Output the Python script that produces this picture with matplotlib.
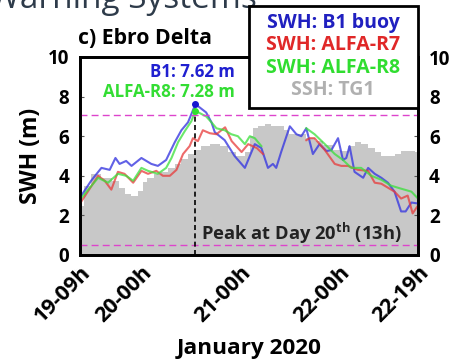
import numpy as np
import matplotlib
matplotlib.use("Agg")
import matplotlib.pyplot as plt
import matplotlib.transforms as mtransforms
from matplotlib.patches import Rectangle

plt.rcParams['font.family'] = ['Open Sans', 'DejaVu Sans']
plt.rcParams['font.weight'] = 'bold'
plt.rcParams['axes.labelweight'] = 'bold'
plt.rcParams['mathtext.fontset'] = 'custom'
plt.rcParams['mathtext.rm'] = 'Open Sans'
plt.rcParams['mathtext.bf'] = 'Open Sans:bold'

# hours since 19 Jan 09h
b1_hours = [0, 2.7, 5.2, 7.2, 8.6, 9.6, 11.2, 12.5, 14.9, 17.3, 18.9, 20.9, 23, 24.6, 26.2, 28,
            30.6, 31.9, 32.7, 35.1, 37.5, 40, 42.4, 44, 45.6, 46.8, 47.6, 48.8, 50.9, 52.5, 53.7,
            54.9, 56.5, 58.1, 59.8, 61, 62.6, 63.8, 64.6, 65.4, 66.6, 68.7, 69.9, 71.5, 73.1, 74.7,
            76.3, 77.9, 79, 80.4, 82]
b1_swh = [2.9, 3.75, 4.4, 4.3, 4.9, 4.6, 4.75, 4.5, 4.9, 4.6, 4.5, 4.8, 5.7, 6.3, 6.7, 7.62,
          7.2, 6.7, 6.2, 5.8, 5.0, 4.4, 5.6, 5.4, 4.4, 4.6, 4.4, 5.2, 6.5, 6.1, 6.0,
          6.4, 5.1, 5.6, 5.25, 5.3, 5.9, 4.8, 4.9, 5.5, 4.2, 3.9, 4.4, 4.1, 3.9, 3.65,
          3.2, 2.2, 2.2, 2.65, 2.6]

r7_hours = [0, 4.4, 6, 7.6, 9.2, 10.8, 12.9, 14.9, 16.5, 18.5, 20.1, 21.8, 23.4, 25, 26.6, 27.4,
            28.6, 29.8, 31.5, 33.1, 35.2, 36.8, 39.2, 40.8, 42.9, 44.4, 49,
            54.9, 55.7, 56.9, 59.4, 61.8, 63.4, 65, 67.4, 69.9, 71.5, 73.1, 74.7, 76.3, 77.9,
            79.5, 80.7, 82]
r7_swh = [2.6, 4.0, 3.75, 3.3, 4.2, 4.1, 3.65, 4.25, 4.1, 4.25, 4.0, 4.0, 4.3, 5.1, 5.5, 5.9,
          5.75, 6.3, 6.15, 6.1, 6.45, 5.75, 5.2, 5.6, 5.4, 5.1, np.nan,
          5.8, 5.9, 5.9, 5.3, 4.6, 4.5, 4.5, 4.3, 4.25, 3.65, 3.6, 3.4, 3.2, 2.85,
          3.0, 2.1, 2.5]

r8_hours = [0, 4.4, 6.8, 9.2, 11.2, 12.9, 14.9, 16.5, 18.9, 20.9, 22.2, 23.8, 25.4, 27, 28,
            30.6, 31.9, 33.1, 35.1, 36.7, 38.3, 40, 41.2, 42.4, 44, 49,
            54.9, 56.9, 59.4, 61.8, 63.8, 65.8, 68.2, 70.7, 73.1, 75.5, 77.9, 80.4, 82]
r8_swh = [2.8, 3.9, 3.65, 4.1, 4.0, 3.75, 4.4, 4.25, 4.1, 4.4, 4.9, 5.7, 6.25, 6.75, 7.28,
          7.0, 6.7, 6.4, 6.3, 6.1, 6.0, 5.6, 6.0, 5.9, 5.5, np.nan,
          6.4, 6.1, 5.6, 5.1, 4.8, 4.4, 4.4, 4.0, 3.8, 3.5, 3.35, 3.2, 2.85]

tg1_hours = [0, 1.7, 3.6, 6.8, 8.8, 10, 11.6, 13.3, 14.9, 15.7, 16.9, 18.9, 20.5, 22.2, 23.8,
             25.4, 27, 28.6, 30.2, 32.7, 35.1, 36.7, 39.1, 40.8, 41.5, 42.4, 44, 45.6, 47.2,
             48.8, 50.1, 51.3, 53.7, 56.1, 57.7, 60.2, 62.6, 64.2, 65.8, 67.4, 69, 70.7, 72.3,
             73.9, 75.5, 77.1, 78.8, 80.4, 82]
tg1_ssh = [2.5, 3.5, 4.1, 3.9, 3.75, 3.4, 3.1, 3.0, 3.25, 3.7, 3.9, 4.1, 4.2, 4.4, 4.6,
           4.85, 5.1, 5.3, 5.5, 5.6, 5.5, 5.2, 5.0, 5.2, 6.0, 6.4, 6.5, 6.6, 6.5,
           6.5, 6.3, 6.1, 6.1, 5.9, 5.75, 5.55, 5.3, 5.25, 5.5, 5.7, 5.6, 5.4, 5.2,
           5.0, 5.0, 5.1, 5.25, 5.25, 5.2]

tick_hours = [0, 15, 39, 63, 82]
tick_labels = ['19-09h', '20-00h', '21-00h', '22-00h', '22-19h']

peak_hour = 28
peak_b1 = 7.62
peak_r8 = 7.28
upper_level = 7.05
lower_level = 0.5

W, H = 456, 362
fig = plt.figure(figsize=(W / 100, H / 100), dpi=100)
ax = fig.add_axes([80 / W, 1 - 255 / H, 338 / W, 198 / H])
ax2 = ax.twinx()

# sea surface height as grey background on the right axis
ax2.fill_between(tg1_hours, tg1_ssh, 0, step='mid', color='#c8c8c8', lw=0)
ax2.set_ylim(0, 10)
ax.set_zorder(ax2.get_zorder() + 1)
ax.patch.set_visible(False)

ax.plot(b1_hours, b1_swh, color='#3a3ae0', alpha=0.8, lw=1.5)
ax.plot(r7_hours, r7_swh, color='#e83a3a', alpha=0.75, lw=1.5)
ax.plot(r8_hours, r8_swh, color='#3ae03a', alpha=0.75, lw=1.5)

ax.axhline(upper_level, color='#dd44cc', lw=1, ls=(0, (5, 3)))
ax.axhline(lower_level, color='#dd44cc', lw=1, ls=(0, (5, 3)))
ax.plot([peak_hour, peak_hour], [0, peak_b1], color='black', lw=1.2, ls=(0, (3, 2)))
ax.plot(peak_hour, peak_b1, 'o', color='#1515d0', ms=4)
ax.plot(peak_hour, peak_r8, 'o', color='#30e030', ms=4)

ax.text(37.6, 9.25, f'B1: {peak_b1:.2f} m', color='#2020d0', fontsize=12.2,
        ha='right', va='center')
ax.text(37.6, 8.25, f'ALFA-R8: {peak_r8:.2f} m', color='#33dd33', fontsize=12.2,
        ha='right', va='center')
ax.text(peak_hour + 1.4, 1.1, r'Peak at Day 20$^{\mathbf{th}}$ (13h)', color='#222222',
        fontsize=13.2, ha='left', va='center')

ax.set_xlim(0, 82)
ax.set_ylim(0, 10)
ax.set_yticks([0, 2, 4, 6, 8, 10])
ax2.set_yticks([0, 2, 4, 6, 8, 10])
ax.set_xticks(tick_hours)
ax.set_xticklabels(tick_labels, rotation=45, ha='right', rotation_mode='anchor')
shift = mtransforms.ScaledTranslation(0.1, 0, fig.dpi_scale_trans)
for lbl in ax.get_xticklabels():
    lbl.set_transform(lbl.get_transform() + shift)
ax.tick_params(axis='x', length=0, labelsize=15.5, pad=5)
ax.tick_params(axis='y', direction='in', length=3, color='#555555', labelsize=13.5, pad=8)
ax2.tick_params(axis='y', direction='in', length=3, color='#555555', labelsize=13.5, pad=8)
for spine in ax.spines.values():
    spine.set_linewidth(2)
for spine in ax2.spines.values():
    spine.set_linewidth(2)

ax.set_ylabel('SWH (m)', fontsize=16.5, labelpad=3)
ax.set_xlabel('January 2020', fontsize=16.2, labelpad=8)

fig.text(78 / W, 1 - 38 / H, 'c) Ebro Delta', fontsize=15.3, ha='left', va='center')

# legend box with coloured labels
box = Rectangle((249 / W, 1 - 108 / H), 169 / W, 102 / H, transform=fig.transFigure,
                facecolor='white', edgecolor='black', lw=2, zorder=5)
fig.add_artist(box)
legend_rows = [('SWH: B1 buoy', '#2020c0', 23), ('SWH: ALFA-R7', '#e02828', 45),
               ('SWH: ALFA-R8', '#30dd30', 68), ('SSH: TG1', '#b0b0b0', 90)]
for label, col, ypix in legend_rows:
    fig.text(333 / W, 1 - ypix / H, label, color=col, fontsize=14, ha='center',
             va='center', zorder=6)

fig.text(257 / W, 1 - 8 / H, 'Warning Systems', fontsize=24, ha='right', va='baseline',
         color='#2e3b4a', family='Open Sans', weight='normal')

fig.savefig('out.png', dpi=100)
